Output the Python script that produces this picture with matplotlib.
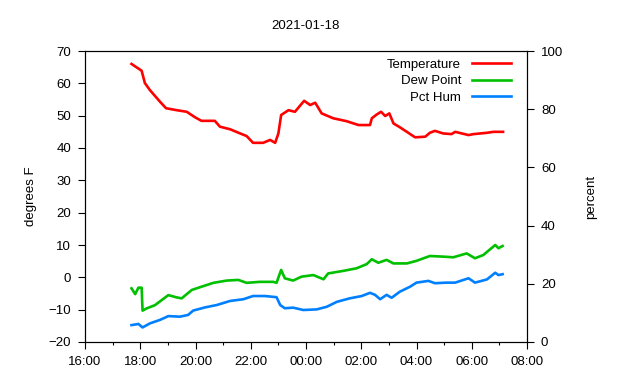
import numpy as np
import matplotlib
matplotlib.use('Agg')
import matplotlib.pyplot as plt

plt.rcParams['font.family'] = ['Liberation Sans', 'DejaVu Sans']

title = '2021-01-18'

#---
# readings (clock time, value)
#---
temp_t = ['17:41', '18:03', '18:10', '18:21', '18:43', '18:56', '19:19', '19:41', '19:59',
          '20:13', '20:42', '20:53', '21:15', '21:37', '21:51', '22:05', '22:27', '22:42',
          '22:53', '23:00', '23:06', '23:22', '23:36', '23:56', '00:09', '00:20', '00:34',
          '00:59', '01:28', '01:54', '02:19', '02:23', '02:34', '02:43', '02:52', '03:01',
          '03:10', '03:24', '03:39', '03:57', '04:19', '04:29', '04:40', '04:58', '05:16',
          '05:24', '05:53', '06:04', '06:33', '06:47', '07:08']
temp_v = [66.0, 63.9, 60.1, 57.9, 54.3, 52.3, 51.7, 51.2, 49.5,
          48.4, 48.4, 46.6, 45.8, 44.5, 43.7, 41.6, 41.6, 42.5,
          41.6, 44.5, 50.2, 51.7, 51.2, 54.6, 53.3, 54.0, 50.7,
          49.2, 48.3, 47.1, 47.1, 49.2, 50.4, 51.2, 49.9, 50.7,
          47.6, 46.4, 45.0, 43.3, 43.5, 44.7, 45.3, 44.5, 44.3,
          45.0, 44.0, 44.3, 44.7, 45.0, 45.0]

dew_t = ['17:41', '17:49', '17:56', '18:03', '18:05', '18:14', '18:32', '18:47', '19:01',
         '19:19', '19:30', '19:52', '20:13', '20:39', '21:08', '21:33', '21:51', '22:20',
         '22:49', '22:56', '23:06', '23:14', '23:32', '23:50', '00:16', '00:38', '00:48',
         '01:21', '01:50', '02:12', '02:23', '02:37', '02:55', '03:10', '03:39', '04:00',
         '04:29', '04:58', '05:20', '05:49', '06:07', '06:25', '06:51', '06:58', '07:07']
dew_v = [-3.4, -5.2, -3.2, -3.2, -10.3, -9.6, -8.6, -7.0, -5.5,
         -6.2, -6.5, -3.9, -2.9, -1.7, -1.0, -0.8, -1.7, -1.4,
         -1.4, -1.7, 2.3, -0.3, -1.0, 0.2, 0.7, -0.6, 1.2,
         2.0, 2.8, 4.1, 5.6, 4.5, 5.4, 4.3, 4.3, 5.1,
         6.6, 6.4, 6.2, 7.4, 5.9, 6.9, 10.0, 9.0, 9.7]

hum_t = ['17:41', '17:56', '18:05', '18:21', '18:43', '19:01', '19:26', '19:44', '19:55',
         '20:21', '20:46', '21:15', '21:44', '22:05', '22:31', '22:56', '23:04', '23:14',
         '23:32', '23:54', '00:23', '00:45', '01:07', '01:35', '02:01', '02:19', '02:30',
         '02:41', '02:55', '03:06', '03:24', '03:46', '04:00', '04:26', '04:40', '05:05',
         '05:24', '05:53', '06:07', '06:33', '06:51', '06:58', '07:07']
hum_v = [5.8, 6.2, 5.0, 6.4, 7.6, 8.9, 8.7, 9.3, 10.8,
         11.9, 12.7, 14.1, 14.7, 15.8, 15.8, 15.4, 12.7, 11.6,
         11.8, 11.0, 11.2, 12.1, 13.8, 15.0, 15.8, 16.9, 16.2,
         14.7, 16.2, 15.2, 17.3, 19.0, 20.4, 21.0, 20.2, 20.4,
         20.4, 21.9, 20.4, 21.5, 23.8, 23.0, 23.3]

xticks = ['16:00', '18:00', '20:00', '22:00', '00:00', '02:00', '04:00', '06:00', '08:00']

#----
# clock time -> hours after 16:00 (past midnight goes to next day)
#--
def hrs(s):
    h, m = s.split(':')
    v = int(h) + int(m) / 60.
    if v < 12:
        v += 24
    return v - 16

def to_x(lst):
    return np.array([hrs(s) for s in lst])

fig = plt.figure(figsize=(6.4, 3.8), dpi=100)
ax = fig.add_axes([85/640., 38/380., 442/640., 291/380.])
ax2 = ax.twinx()

l1, = ax.plot(to_x(temp_t), temp_v, color='#ff0000', lw=1.9)
l2, = ax.plot(to_x(dew_t), dew_v, color='#00c000', lw=1.9)
l3, = ax2.plot(to_x(hum_t), hum_v, color='#0080ff', lw=1.9)

ax.set_xlim(0, 16)
ax.set_ylim(-20, 70)
ax2.set_ylim(0, 100)

xt = to_x(xticks)
xt[0] = 0
ax.set_xticks(xt)
ax.set_xticklabels(xticks)
ax.set_xticks(np.arange(1, 16, 2), minor=True)
ax.set_yticks(np.arange(-20, 71, 10))
ax2.set_yticks(np.arange(0, 101, 20))

fs = 9.5
ax.tick_params(axis='both', which='major', direction='out', length=5, width=0.8, labelsize=fs, pad=5)
ax.tick_params(axis='x', which='minor', direction='out', length=2.5, width=0.8)
ax2.tick_params(axis='y', which='major', direction='out', length=5, width=0.8, labelsize=fs, pad=5)

ax.set_ylabel('degrees F', fontsize=fs)
ax.yaxis.set_label_coords((37 - 85) / 442., 0.5)
ax2.set_ylabel('percent', fontsize=fs)
ax2.yaxis.set_label_coords((585 - 85) / 442., 0.5)

fig.text(306/640., 1 - 26/380., title, ha='center', va='center', fontsize=fs)

leg = ax2.legend([l1, l2, l3], ['Temperature', 'Dew Point', 'Pct Hum'],
                 loc='upper right', bbox_to_anchor=(0.975, 0.993), frameon=False,
                 markerfirst=False, fontsize=fs, handlelength=2.9,
                 handletextpad=0.85, labelspacing=0.34, borderaxespad=0)

plt.savefig('out.png', dpi=100)
